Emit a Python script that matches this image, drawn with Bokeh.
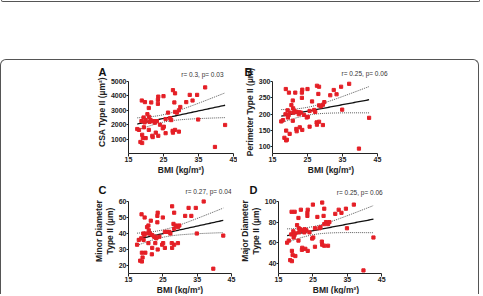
from bokeh.plotting import figure
from bokeh.layouts import column, row
from bokeh.models import Label, Spacer, Range1d, Column, Title
from bokeh.embed import file_html
from bokeh.resources import INLINE
import numpy as np

# ---- data ----
bmi = [27.7, 36.9, 32.5, 34.6, 33.3, 31.5, 28.3, 28.1, 18.8, 19.7,
       21.5, 23.5, 25.0, 23.4, 23.4, 20.8, 29.8, 29.4, 26.3, 28.3,
       28.8, 20.4, 20.9, 19.3, 19.9, 18.7, 19.6, 21.3, 21.9, 22.6,
       23.1, 25.6, 26.9, 27.2, 25.1, 24.8, 22.5, 34.9, 42.6, 18.0,
       19.4, 20.8, 18.9, 19.1, 19.9, 21.9, 21.8, 22.8, 23.5, 25.6,
       27.7, 27.6, 28.3, 29.4, 18.4, 18.9, 39.7, 17.5, 24.0, 21.0]

csa = [4400, 4590, 4070, 4070, 3680, 3570, 4180, 3545, 3680, 3570,
       3545, 3950, 3980, 3730, 3450, 3160, 3230, 3000, 2840, 2890,
       2840, 2730, 2545, 2500, 2320, 2250, 2160, 2320, 2250, 2250,
       2250, 2390, 2450, 2320, 1860, 1750, 2140, 2360, 1980, 1640,
       1820, 1640, 1300, 1070, 1070, 1140, 1230, 1450, 1230, 1410,
       1450, 1570, 1640, 1520, 800, 730, 455, 1700, 2000, 2200]

perimeter = [287, 293, 274, 284, 261, 258, 284, 262, 277, 266,
             266, 275, 277, 266, 250, 242, 237, 229, 239, 227,
             224, 228, 218, 212, 205, 200, 197, 210, 207, 206,
             205, 210, 213, 207, 192, 190, 200, 214, 189, 182,
             190, 180, 150, 122, 140, 148, 155, 160, 152, 162,
             168, 175, 177, 167, 128, 120, 95, 178, 198, 205]

minor_diameter = [57, 60, 56, 56, 51, 51, 53, 46, 52, 50,
                  48, 53, 50, 51, 47, 45, 45, 44, 41, 43,
                  45, 44, 42, 40, 40, 37, 39, 40, 39, 38,
                  37, 41, 41, 40, 34, 33, 38, 40, 38.7, 36,
                  36, 34, 28, 25, 28, 31, 27, 34, 30, 31,
                  31, 34, 33, 34, 23, 22.5, 18, 33, 38, 40]

major_diameter = [99, 97, 92, 93, 89, 88, 93, 86, 90, 90,
                  92, 92, 97, 89, 86, 84, 80, 78, 85, 78,
                  80, 77, 74, 71, 69, 68, 67, 73, 72, 73,
                  72, 74, 74, 75, 65, 64, 70, 74, 65, 62,
                  65, 62, 52, 48, 47, 55, 53, 54, 52, 56,
                  58, 61, 57, 57, 43, 42, 33, 60, 70, 70]

x_ticks = [15, 25, 35, 45]
labels = ["A", "B", "C", "D"]
y_titles = ["CSA Type II (µm²)", "Perimeter Type II (µm)",
            "Minor Diameter\nType II (µm)", "Major Diameter\nType II (µm)"]
y_ranges = [(0, 5000), (80, 300), (15, 60), (30, 100)]
y_ticks = [[1000, 2000, 3000, 4000, 5000], [100, 150, 200, 250, 300],
           [20, 30, 40, 50, 60], [40, 60, 80, 100]]
stats = ["r= 0.3, p= 0.03", "r= 0.25, p= 0.06", "r= 0.27, p= 0.04", "r= 0.25, p= 0.06"]

FONT = "Liberation Sans"
RED = "#e41f26"
AX_W, AX_H = 105, 72      # pixel size of the axes box


def panel(i, yvals, left, right, top, bottom, ext_top, ext_right, stat_dx, stat_dy, let_dx, lh):
    y0, y1 = y_ranges[i]
    ytop = y1 + ext_top * (y1 - y0) / AX_H
    xright = 45 + ext_right * 30 / AX_W
    p = figure(frame_width=AX_W + ext_right, frame_height=AX_H + ext_top,
               x_range=Range1d(15, xright), y_range=Range1d(y0, ytop),
               min_border_left=left, min_border_right=right,
               min_border_top=top, min_border_bottom=bottom,
               toolbar_location=None, output_backend="svg", title=None)
    p.outline_line_color = None
    p.background_fill_color = None
    p.border_fill_color = None
    p.grid.visible = False
    for ax in (p.xaxis, p.yaxis):
        ax.axis_line_color = "#222222"
        ax.axis_line_width = 1
        ax.major_tick_line_color = "#222222"
        ax.major_tick_out = 3
        ax.major_tick_in = 0
        ax.minor_tick_line_color = None
        ax.major_label_text_font = FONT
        ax.major_label_text_font_style = "bold"
        ax.major_label_text_font_size = "7px"
        ax.major_label_text_color = "#222222"
        ax.major_label_standoff = 0
        ax.axis_label_text_font = FONT
        ax.axis_label_text_font_style = "bold"
        ax.axis_label_text_font_size = "8.5px"
        ax.axis_label_text_color = "#222222"
        ax.axis_label_standoff = 1
    p.yaxis.major_tick_out = 2
    p.yaxis.axis_label_text_line_height = lh
    p.xaxis.axis_label_standoff = 0
    p.xaxis.ticker = x_ticks
    p.yaxis.ticker = y_ticks[i]
    p.xaxis.bounds = (15, 45)
    p.yaxis.bounds = (y0, y1)
    p.xaxis.axis_label = "BMI (kg/m²)"
    p.yaxis.axis_label = y_titles[i]

    x = np.array(bmi, dtype=float)
    y = np.array(yvals, dtype=float)
    n = len(x)
    b, a = np.polyfit(x, y, 1)
    xs = np.linspace(x.min(), x.max(), 60)
    yh = a + b * xs
    resid = y - (a + b * x)
    s = np.sqrt(np.sum(resid ** 2) / (n - 2))
    sxx = np.sum((x - x.mean()) ** 2)
    se = s * np.sqrt(1.0 / n + (xs - x.mean()) ** 2 / sxx)
    t = 2.0017
    p.line(xs, yh + t * se, line_color="#555555", line_width=1, line_dash="1 1")
    p.line(xs, yh - t * se, line_color="#555555", line_width=1, line_dash="1 1")
    p.line(xs, yh, line_color="#111111", line_width=1.3)
    p.scatter(x, y, marker="square", size=3.2, fill_color=RED, line_color=RED)

    # panel letter: a title in the side panel, pulled down next to the frame top
    p.add_layout(Title(text=labels[i], align="left", offset=let_dx, standoff=-14,
                       vertical_align="bottom", text_font=FONT, text_font_style="bold",
                       text_font_size="11px", text_color="#111111"), "above")
    p.add_layout(Label(x=45, y=y1, x_offset=stat_dx, y_offset=stat_dy, text=stats[i],
                       text_font=FONT, text_font_size="6.5px",
                       text_baseline="middle", text_align="right", text_color="#333333"))
    return p


# row 1 figures start at page y=61, row 2 at y=179
pA = panel(0, csa, 127, 4, 10, 25, 11, 0, -10, 7, -30, 1.0)
pB = panel(1, perimeter, 35, 85, 10, 25, 11, 12, 10, 8, -28, 1.0)
pC = panel(2, minor_diameter, 127, 4, 10, 22, 13, 0, 0, 10, -30, 1.1)
pD = panel(3, major_diameter, 35, 85, 10, 22, 13, 12, 1, 9, -29, 1.1)

top_shape = Spacer(width=479, height=2,
                   styles={"border": "1px solid #555", "border-top": "none",
                           "border-radius": "0 0 5px 5px", "margin-left": "1px"})
main = Column(row(pA, pB), row(pC, pD), width=479, height=235,
              styles={"border": "1px solid #555", "border-bottom": "none",
                      "border-radius": "6px 6px 0 0", "overflow": "hidden"})
layout = column(top_shape, Spacer(height=57), main)

open("out.html", "w").write(file_html(layout, INLINE))
